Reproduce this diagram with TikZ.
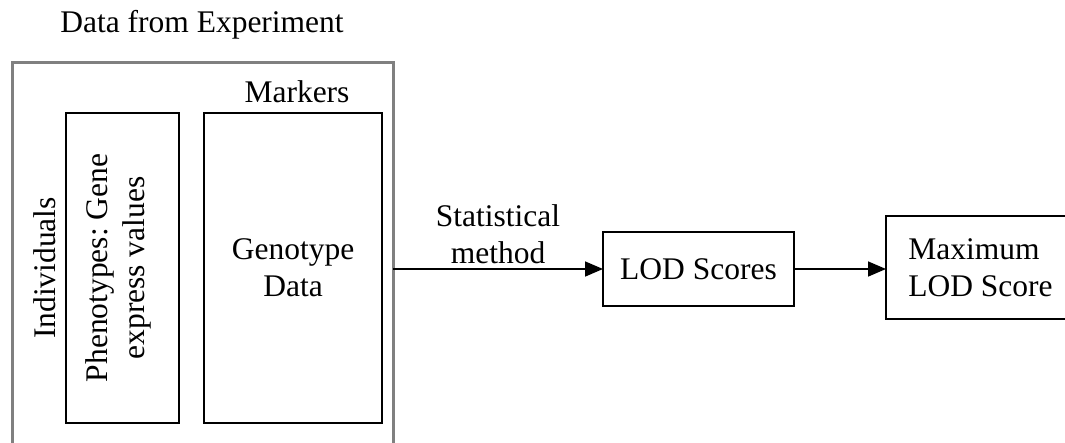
\documentclass[tikz,border=0pt]{standalone}
\usepackage{fontspec}
\setmainfont{Liberation Serif}
\usetikzlibrary{arrows.meta}
\definecolor{framegray}{RGB}{128,128,128}
\begin{document}
\frenchspacing
\begin{tikzpicture}[x=1pt,y=-1pt,
  every node/.style={font=\fontsize{31.5}{37}\selectfont, inner sep=0pt, outer sep=0pt},
  box/.style={draw=black, line width=1.3pt, rectangle, align=center},
  frame/.style={draw=framegray, line width=3pt, rectangle},
  arr/.style={line width=1.6pt, -{Triangle[length=18pt,width=15pt]}},
  lbl/.style={align=center}]
\useasboundingbox (0,0) rectangle (1065,442);
\node[lbl] (title) at (202,25) {Data from Experiment};
\node[frame, minimum width=381pt, minimum height=398pt] (outer) at (202.5,261) {};
\node[lbl, anchor=base] (markers) at (297,102) {Markers};
\node[box, minimum width=113pt, minimum height=310pt] (pheno) at (122.5,268) {};
\node[lbl, rotate=90] (phenotxt) at (118,268) {Phenotypes: Gene\\express values};
\node[lbl, rotate=90, anchor=base] (indiv) at (55,268) {Individuals};
\node[box, minimum width=178pt, minimum height=310pt] (geno) at (293,268) {Genotype\\Data};
\node[box, minimum width=191pt, minimum height=74pt] (lod) at (698.5,269) {LOD Scores};
\node[box, align=left, minimum width=189pt, minimum height=103pt] (maxlod) at (980.5,267.5) {Maximum\\LOD Score};
\draw[arr] (outer.east |- lod.west) -- node[lbl, above=5pt] (stat) {Statistical\\method} (lod.west);
\draw[arr] (lod.east) -- (maxlod.west |- lod.east);
\end{tikzpicture}
\end{document}
